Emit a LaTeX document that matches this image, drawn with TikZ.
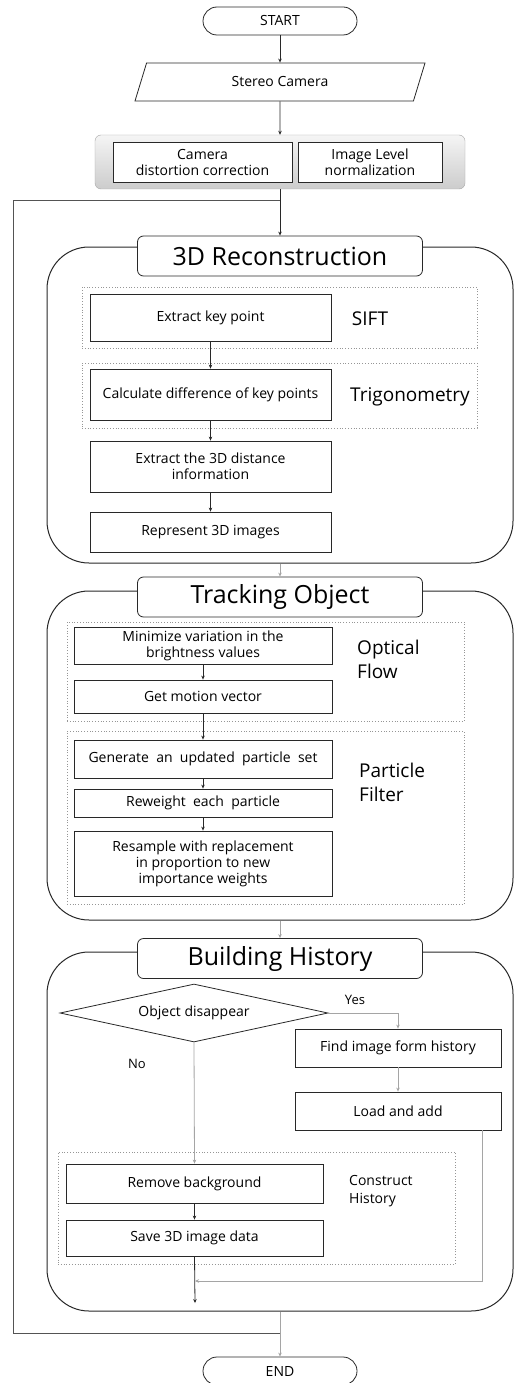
\documentclass[tikz,border=0pt]{standalone}
\usepackage{fontspec}
\setmainfont{Open Sans}
\usepackage{xcolor}
\usepackage{tikz}
\usetikzlibrary{shapes.geometric, arrows.meta, positioning, calc}
\definecolor{lineblack}{RGB}{40, 40, 40}
\definecolor{linegray}{RGB}{165, 165, 165}
\definecolor{dotgray}{RGB}{150, 150, 150}

\begin{document}
\begin{tikzpicture}[
    x=1pt, y=-1pt,
    every node/.style={font=\fontsize{14}{16}\selectfont, align=center, inner sep=2pt},
    terminal/.style={rectangle, rounded corners=14pt, draw=lineblack, line width=0.8pt, fill=white, minimum width=154pt, minimum height=28pt},
    process/.style={rectangle, draw=lineblack, line width=0.8pt, fill=white, minimum height=#1},
    process/.default=38pt,
    section/.style={rectangle, rounded corners=42pt, draw=lineblack, line width=1pt},
    sectitle/.style={rectangle, rounded corners=6pt, draw=lineblack, line width=0.8pt, fill=white, minimum width=285pt, minimum height=40pt, font=\fontsize{25}{29}\selectfont},
    group/.style={rectangle, draw=dotgray, dotted, line width=0.8pt},
    method/.style={font=\fontsize{19}{24}\selectfont, align=left, anchor=west},
    arrow/.style={->, >={Stealth[length=4pt, width=3.5pt]}, lineblack, line width=0.8pt},
    grayarrow/.style={->, >={Stealth[length=4pt, width=3.5pt]}, linegray, line width=0.8pt}
]
\fill[white] (0,0) rectangle (515,1383);
\useasboundingbox (0,0) rectangle (515,1383);

% Input stage
\node[terminal] (start) at (280,21) {START};
\node[trapezium, trapezium left angle=51, trapezium right angle=129, trapezium stretches body,
      draw=lineblack, line width=0.8pt, minimum width=290pt, minimum height=38pt] (stereo) at (280,82) {Stereo Camera};
\node[rectangle, rounded corners=6pt, draw=gray!70, top color=gray!8, bottom color=gray!40,
      minimum width=370pt, minimum height=54pt] (prep) at (280,162) {};
\node[process=40pt, minimum width=179pt] (distort) at (202.5,162) {Camera\\distortion correction};
\node[process=40pt, minimum width=144pt] (norm) at (370,162) {Image Level\\normalization};
\coordinate (loopin) at (280,200);

% 3D Reconstruction
\node[section, minimum width=466pt, minimum height=316pt] (recon) at (280,405) {};
\node[sectitle] (reconttl) at (280,256) {3D Reconstruction};
\node[group, minimum width=395pt, minimum height=61pt] (siftgrp) at (279.5,317.5) {};
\node[process=47pt, minimum width=241pt] (keypt) at (210.5,317.5) {Extract key point};
\node[method, anchor=center] at (370,319) {SIFT};
\node[group, minimum width=395pt, minimum height=65pt] (triggrp) at (279.5,395.5) {};
\node[process=51pt, minimum width=241pt] (diffkp) at (210.5,394.5) {Calculate difference of key points};
\node[method, anchor=center] at (410,397) {Trigonometry};
\node[process=51pt, minimum width=241pt] (dist) at (210.5,466.5) {Extract the 3D distance\\information};
\node[process=40pt, minimum width=241pt] (repr) at (210.5,532) {Represent 3D images};

% Tracking Object
\node[section, minimum width=466pt, minimum height=329pt] (track) at (280,755.5) {};
\node[sectitle] (trackttl) at (280,597) {Tracking Object};
\node[group, minimum width=397pt, minimum height=99pt] (flowgrp) at (265.5,671.5) {};
\node[process=37pt, minimum width=258pt] (minvar) at (203,645.5) {Minimize variation in the\\brightness values};
\node[process=33pt, minimum width=258pt] (motion) at (203,696.5) {Get motion vector};
\node[method] at (355,659.5) {Optical\\Flow};
\node[group, minimum width=397pt, minimum height=173pt] (pfgrp) at (265.5,817.5) {};
\node[process=38pt, minimum width=258pt] (gen) at (203,759) {Generate\ \ an\ \ updated\ \ particle\ \ set};
\node[process=28pt, minimum width=258pt] (rew) at (203,803) {Reweight\ \ each\ \ particle};
\node[process=65pt, minimum width=258pt] (resample) at (203,863.5) {Resample with replacement\\in proportion to new\\importance weights};
\node[method] at (357,782) {Particle\\Filter};

% Building History
\node[section, minimum width=466pt, minimum height=359pt] (hist) at (280,1131.5) {};
\node[sectitle] (histttl) at (280,958.5) {Building History};
\node[diamond, aspect=4.6, draw=lineblack, line width=0.8pt, fill=white, minimum width=268pt, minimum height=58pt, inner sep=0pt] (disap) at (194,1013) {Object disappear};
\node[font=\fontsize{13}{15}\selectfont] (yes) at (355,1000) {Yes};
\node[font=\fontsize{13}{15}\selectfont] (no) at (137,1064) {No};
\node[process=38pt, minimum width=206pt] (find) at (398,1048) {Find image form history};
\node[process=38pt, minimum width=206pt] (load) at (398,1111) {Load and add};
\node[group, minimum width=397pt, minimum height=112pt] (constgrp) at (256.5,1208) {};
\node[process=39pt, minimum width=257pt] (remove) at (194.5,1183.5) {Remove background};
\node[process=36pt, minimum width=257pt] (save) at (194.5,1238) {Save 3D image data};
\node[anchor=west, align=left, font=\fontsize{14}{18}\selectfont] at (347,1191) {Construct\\History};
\coordinate (merge) at (195,1281);
\coordinate (histout) at (195,1303);

% End and feedback loop
\node[terminal] (finish) at (280,1371) {END};
\coordinate (loopout) at (280,1333);
\coordinate (loopleft) at (13,1333);

% Connections
\draw[arrow] (start) -- (stereo);
\draw[arrow] (stereo) -- (prep);
\draw[arrow] (prep) -- (reconttl);
\draw[arrow] (keypt) -- (diffkp);
\draw[arrow] (diffkp) -- (dist);
\draw[arrow] (dist) -- (repr);
\draw[grayarrow] (recon.south -| trackttl.north) -- (trackttl.north);
\draw[arrow] (minvar) -- (motion);
\draw[arrow] (motion) -- (gen);
\draw[arrow] (gen) -- (rew);
\draw[arrow] (rew) -- (resample);
\draw[grayarrow] (track.south -| histttl.north) -- (histttl.north);
\draw[grayarrow] (disap.east) -| (find.north);
\draw[grayarrow] (find) -- (load);
\draw[grayarrow] (disap.south) -- (remove.north);
\draw[arrow] (remove) -- (save);
\draw[arrow] (save.south) -- (histout);
\draw[grayarrow] ([xshift=-19pt]load.south east) |- (merge);
\draw[grayarrow] (hist.south -| finish.north) -- (finish.north);
\draw[lineblack!80, line width=0.8pt] (loopout) -- (loopleft) |- (loopin);
\end{tikzpicture}
\end{document}
